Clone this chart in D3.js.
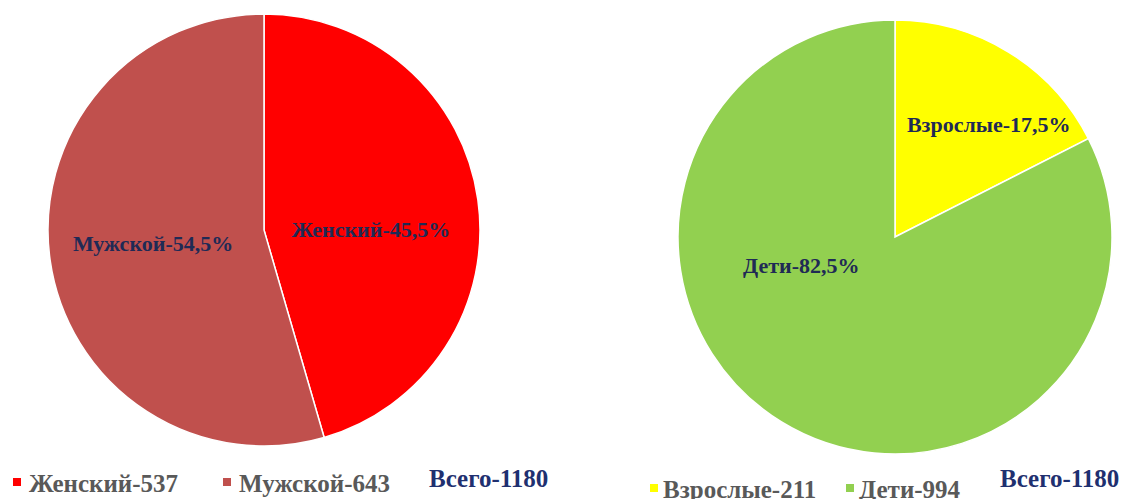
<!DOCTYPE html>
<html lang="ru">
<head>
<meta charset="UTF-8">
<title>Pie charts</title>
<script src="https://cdnjs.cloudflare.com/ajax/libs/d3/7.8.5/d3.min.js"></script>
<style>
  body { margin: 0; background: #fff; }
  svg { display: block; }
  .slice { stroke: #fff; stroke-width: 1.5; }
  .lbl { font-family: "Liberation Serif", "Times New Roman", serif; font-weight: bold; font-size: 22px; fill: #1f2a55; }
  .leg { font-family: "Liberation Serif", "Times New Roman", serif; font-weight: bold; font-size: 25px; fill: #595959; }
  .total { font-family: "Liberation Serif", "Times New Roman", serif; font-weight: bold; font-size: 25px; fill: #1f3070; }
</style>
</head>
<body>
<div id="chart"></div>
<script>
// data
var genderNames = ["Женский", "Мужской"],
    genderValues = [537, 643],
    genderPct = ["45,5%", "54,5%"];

var ageNames = ["Взрослые", "Дети"],
    ageValues = [211, 994],
    agePct = ["17,5%", "82,5%"];

var totalLabel = "Всего-1180";

var width = 1126, height = 499;

var svg = d3.select("#chart").append("svg")
    .attr("width", width)
    .attr("height", height);

// one pie with labels + legend
function drawPie(opt) {
  var pie = d3.pie().sort(null).value(function (d) { return d; });
  var arc = d3.arc().innerRadius(0).outerRadius(opt.r);
  var lblArc = d3.arc().innerRadius(opt.r * 0.5).outerRadius(opt.r * 0.5);
  var color = d3.scaleOrdinal().domain(opt.names).range(opt.colors);

  var g = svg.append("g").attr("transform", "translate(" + opt.cx + "," + opt.cy + ")");
  var arcs = pie(opt.values);

  g.selectAll("path.slice")
    .data(arcs)
    .enter()
    .append("path")
    .attr("class", "slice")
    .attr("d", arc)
    .attr("fill", function (d, i) { return color(opt.names[i]); });

  // labels sit near the centroid, nudged like the original
  g.selectAll("text.lbl")
    .data(arcs)
    .enter()
    .append("text")
    .attr("class", "lbl")
    .attr("text-anchor", "middle")
    .attr("x", function (d, i) { return lblArc.centroid(d)[0] + opt.nudge[i][0]; })
    .attr("y", function (d, i) { return lblArc.centroid(d)[1] + opt.nudge[i][1]; })
    .attr("dy", "0.35em")
    .text(function (d, i) { return opt.names[i] + "-" + opt.pct[i]; });

  // legend
  var leg = svg.append("g");
  opt.names.forEach(function (n, i) {
    leg.append("rect")
      .attr("x", opt.legX[i])
      .attr("y", opt.legY - 14)
      .attr("width", 8)
      .attr("height", 8)
      .attr("fill", color(n));
    leg.append("text")
      .attr("class", "leg")
      .attr("x", opt.legX[i] + opt.legGap)
      .attr("y", opt.legY)
      .text(n + "-" + opt.values[i]);
  });
  leg.append("text")
    .attr("class", "total")
    .attr("x", opt.totalX)
    .attr("y", opt.totalY)
    .text(totalLabel);
}

drawPie({
  names: genderNames, values: genderValues, pct: genderPct,
  colors: ["#ff0000", "#c0504d"],
  cx: 264, cy: 230, r: 216,
  nudge: [[0, 14], [-4, -2]],
  legX: [13, 223], legGap: 16, legY: 492,
  totalX: 429, totalY: 487
});

drawPie({
  names: ageNames, values: ageValues, pct: agePct,
  colors: ["#ffff00", "#92d050"],
  cx: 895, cy: 237, r: 217,
  nudge: [[37, -20], [-37, -64]],
  legX: [650, 846], legGap: 13, legY: 498,
  totalX: 1000, totalY: 487
});
</script>
</body>
</html>
